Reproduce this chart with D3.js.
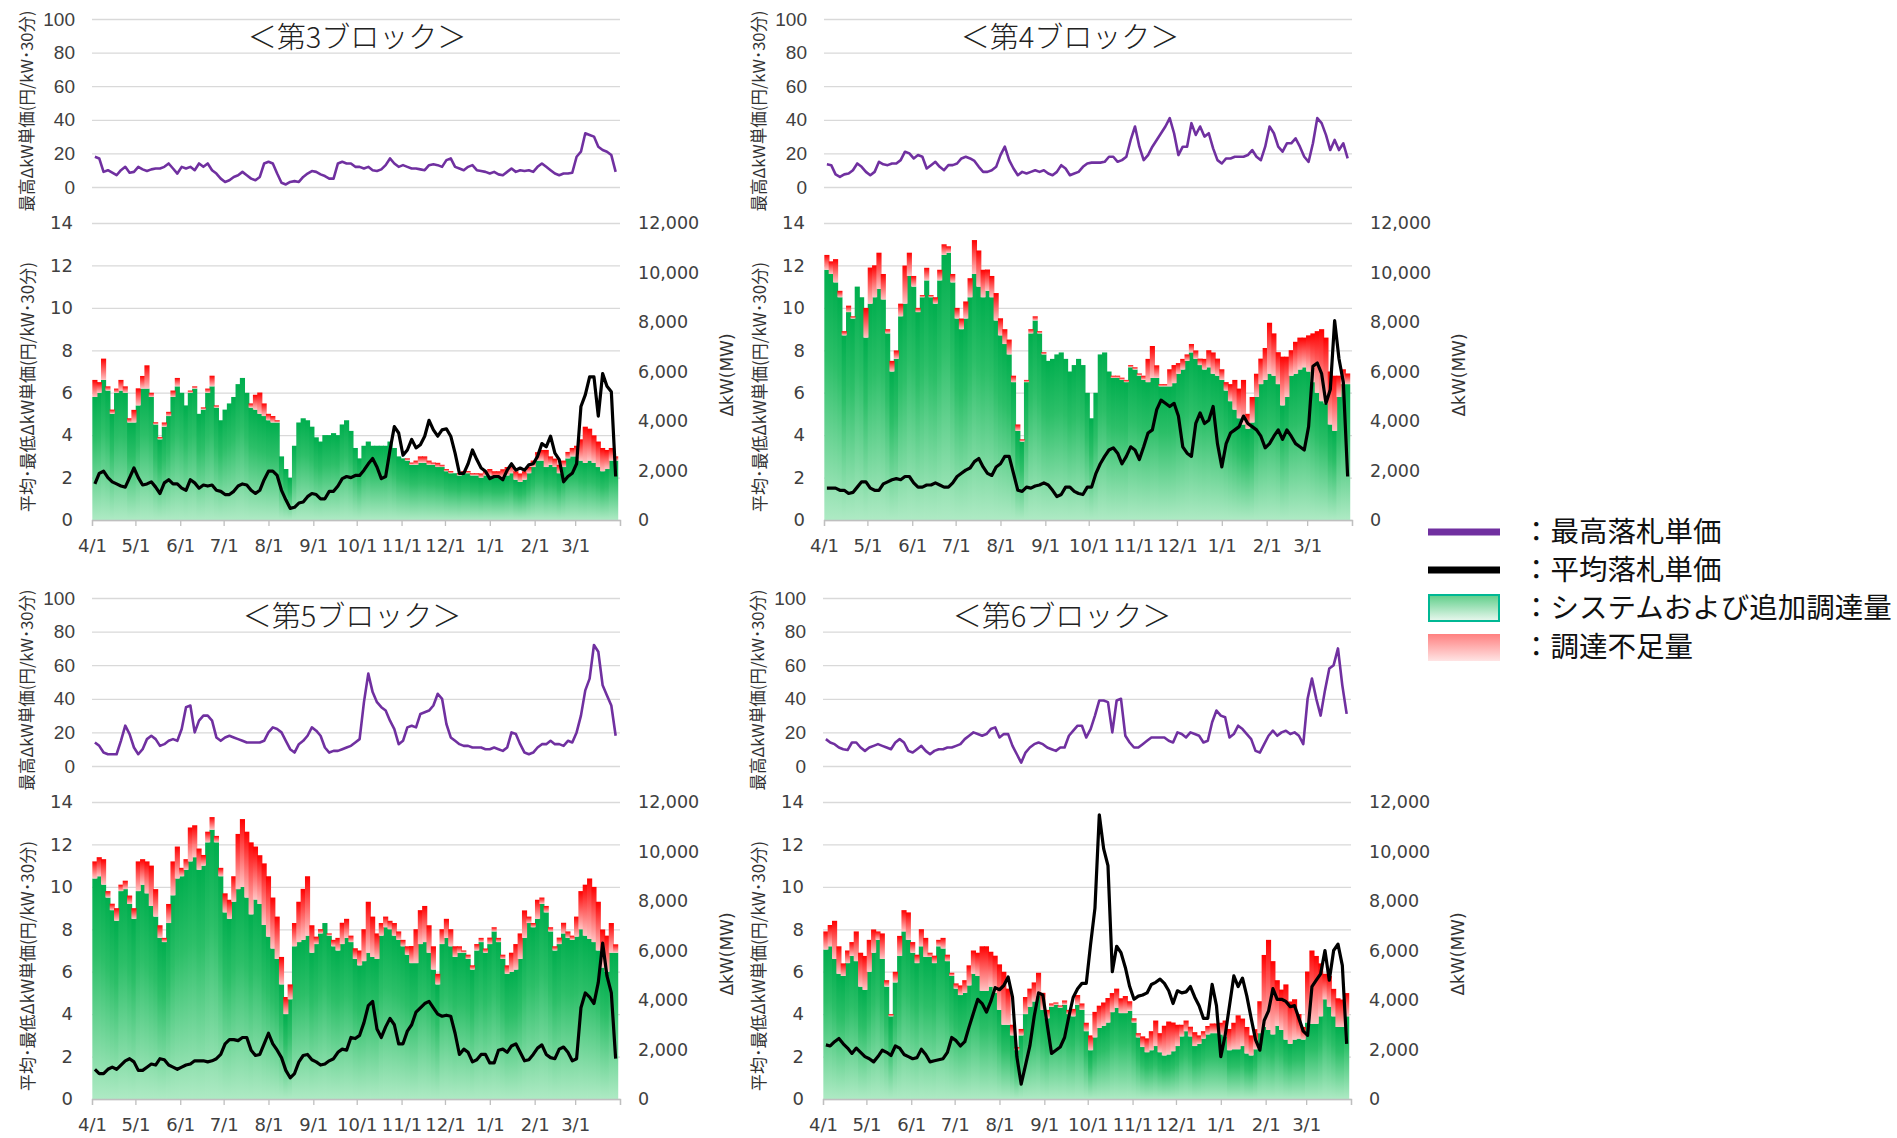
<!DOCTYPE html>
<html>
<head>
<meta charset="utf-8">
<script src="https://cdn.jsdelivr.net/npm/d3@7"></script>
<style>
body { margin: 0; background: #fff; }
</style>
</head>
<body>
<svg id="chart" width="1897" height="1138"></svg>
<script>
// ---- data: one value every 3 days, from 4/3 to 3/30 ----
var firstDay = new Date(2021, 3, 3);
var stepDays = 3;

// block 3
var block3Max = [18,17,9,10,8.5,7,10,12,8.5,9, 12,10.5,9.5,10.5,11,11,12,14,11,8, 12,11,12,10,14,12,14,10,8,5,
  3,4,6,7,9,7,5,4,6,14, 15,14,8,2.5,1.5,3,3.5,3,6,8, 9.5,9,7.5,6.5,5,5,14,15,14,14,
  12,12,11,12,10,9.5,10.5,13,17,14, 12,13,12,11,11,10.5,10,13,13.5,13, 12,16,17,12,11,10,12,13,10,9.5,
  9,8,9,7.5,7,9,11,9,10,9.5, 10,9,12,14,12,10,8,7,8,8, 8.5,18,21,32,31,30,24,22,21,19, 9];
var block3Avg = [1.7,2.2,2.3,2.0,1.8,1.7,1.6,1.55,2.0,2.45, 2.0,1.65,1.7,1.8,1.55,1.25,1.75,1.9,1.7,1.7,
  1.5,1.4,1.9,1.75,1.5,1.65,1.6,1.65,1.4,1.35, 1.2,1.2,1.35,1.6,1.7,1.65,1.4,1.25,1.4,1.9,
  2.3,2.3,2.1,1.4,0.95,0.55,0.6,0.8,0.85,1.1, 1.25,1.2,1.0,1.0,1.35,1.35,1.6,1.95,2.05,2.0,
  2.1,2.1,2.35,2.65,2.9,2.5,1.95,2.05,3.3,4.4, 4.1,3.05,3.3,3.8,3.4,3.55,3.95,4.7,4.25,3.95,
  4.25,4.3,3.95,3.15,2.2,2.2,2.65,3.3,2.85,2.45, 2.3,1.95,2.05,2.05,1.9,2.35,2.65,2.35,2.45,2.35,
  2.6,2.65,3.0,3.6,3.45,3.95,3.15,2.85,1.8,2.05, 2.2,2.65,5.35,5.9,6.75,6.75,4.9,6.9,6.3,6.05, 2.05];
var block3Procured = [4970,5140,5660,5230,4290,5140,5230,5140,3940,3940, 4630,5310,5310,4970,3860,3260,3770,4200,4970,5400,
  5140,4630,5140,5310,4290,4460,5140,5400,4540,4030, 4460,4710,4970,5490,5740,5140,4540,4460,4290,4200,
  4030,3940,3940,2570,2060,1710,3000,3940,4110,4030, 3770,3340,3170,3430,3430,3510,3430,3860,4030,3600,
  2910,2490,3000,3170,3000,3000,3000,3000,3170,2910, 2570,2490,2400,2230,2230,2310,2310,2230,2230,2140,
  2140,1970,1890,1890,1800,1890,1890,1800,1800,1710, 1800,1800,1710,1710,1710,1800,1890,1630,1540,1630,
  1890,2140,2400,2400,2140,2230,2140,1890,2140,2490, 2570,2570,2400,2310,2400,2310,2140,1970,2060,2400, 2400];
var block3Shortage = [690,430,860,170,170,170,430,260,170,510, 690,510,940,170,90,90,170,170,260,340,
  0,0,90,90,0,90,170,430,90,0, 0,0,0,0,0,0,170,600,860,510, 260,260,90,0,0,0,0,0,0,0,
  0,0,0,0,0,0,0,0,0,0, 0,0,0,0,0,0,0,0,0,0, 0,0,90,90,170,260,260,170,90,170,
  90,90,90,0,90,90,90,90,90,170, 170,260,260,260,340,340,340,340,340,340,
  260,260,340,430,690,340,340,340,260,260, 340,430,860,1460,1290,1110,1030,940,770,510, 170];

// block 4
var block4Max = [13.5,13,7.5,6,7.5,8,10,14,12,9, 7,9,15,13.5,13,14,14,16,21,20, 17,19,18,11,13,15,12,10,13,13,
  14,17,18,17,15.5,12,9,9,10,12, 19,24,16,11,7,9,8,9,10,9, 10,8,7,9,13,11,7,8,9,12,
  14,14.5,14.5,14.5,15,18,18,15,16,18, 28,36,24,16,19,24,28,32,36,41, 32,19,24,24,38,31,36,30,32,23,
  16,14,17,17,18,18,18,19,22,18, 16,24,36,32,24,21,26,26,29,24, 18,15,26,41,38,31,22,28,22,26, 17];
var block4Avg = [1.5,1.5,1.5,1.4,1.4,1.25,1.3,1.55,1.8,1.8, 1.5,1.4,1.4,1.7,1.8,1.9,1.95,1.9,2.05,2.05,
  1.75,1.55,1.55,1.65,1.65,1.75,1.65,1.55,1.55,1.75, 2.05,2.2,2.35,2.45,2.75,2.9,2.5,2.2,2.1,2.5,
  2.65,3.0,3.0,2.2,1.4,1.35,1.55,1.5,1.6,1.65, 1.75,1.65,1.4,1.1,1.2,1.55,1.55,1.35,1.25,1.2,
  1.55,1.55,2.2,2.65,3.0,3.3,3.4,3.15,2.65,3.0, 3.45,3.3,2.85,3.45,4.1,4.25,5.2,5.65,5.5,5.35,
  5.5,4.9,3.45,3.15,3.0,4.55,5.05,4.55,4.7,5.35, 3.6,2.5,3.6,4.1,4.25,4.4,4.9,4.55,4.4,4.25,
  3.95,3.4,3.6,3.95,4.25,3.8,4.25,3.95,3.6,3.45, 3.3,4.4,7.25,7.4,6.9,5.5,6.15,9.4,7.6,6.5, 2.05];
var block4Procured = [10110,9940,9600,9000,7460,8400,8140,9430,9000,7370, 8740,9000,9340,8910,7540,6000,6510,8230,8740,9860,
  9430,8400,9000,9680,9000,8740,9680,10710,10800,9600, 8140,7710,8140,9000,9940,9430,9000,9260,9000,8060,
  7460,7110,6690,5570,3600,3170,5570,7540,8060,7540, 6690,6430,6510,6690,6770,6510,6000,6260,6510,6260,
  5140,4110,5140,6690,6770,6000,5740,5740,5660,5570, 6170,6080,5830,5660,5570,5740,5740,5400,5400,5400,
  5530,5910,6080,6430,6770,6510,6260,6080,6170,5910, 5830,5660,5230,4800,4460,4110,3860,3690,3940,4970,
  5490,5660,5910,5830,5490,4630,4970,5830,5910,6080, 6170,6000,5570,5140,4800,4710,3860,3600,4970,5490, 5490];
var block4Shortage = [600,510,940,260,170,260,90,0,0,1200, 1460,1290,1460,1030,170,430,340,510,1540,940,
  430,170,90,510,90,260,430,430,260,340, 430,430,690,770,1370,1460,1110,860,860,1110,
  690,600,600,260,260,90,90,170,170,90, 90,0,0,0,0,0,0,0,0,0, 0,0,0,0,0,0,90,90,90,90,
  90,90,90,170,940,1290,510,90,90,690, 730,430,430,260,340,340,260,430,690,860,
  690,430,340,690,1200,1200,1800,600,1030,940, 1030,1290,2060,1710,1290,1970,1630,1030,1290,1290,
  1200,1460,1970,2490,2910,2660,2140,2230,860,600, 430];

// block 5
var block5Max = [14,12,8,7,7,7,15,24,19,11, 7,10,16,18,16,12,13,15,16,15, 22,35,36,20,27,30,30,27,17,15,
  17,18,17,16,15,14,14,14,14,15, 20,23,22,20,15,10,8,13,15,18, 23,21,18,11,8,9,9,10,11,12,
  14,16,38,55,44,38,35,33,27,22, 13,15,23,24,23,31,32,33,36,43, 40,25,17,15,13,12,12,11,11,11,
  10,10,11,10,9,11,20,19,13,8, 7,8,11,13,13,15,13,13,12,15, 14,20,30,45,52,72,68,48,42,36, 18];
var block5Avg = [1.4,1.2,1.2,1.4,1.5,1.4,1.6,1.8,1.9,1.75, 1.35,1.35,1.5,1.65,1.6,1.9,1.85,1.6,1.5,1.4,
  1.5,1.6,1.65,1.8,1.8,1.8,1.75,1.8,1.9,2.1, 2.6,2.8,2.8,2.75,2.9,2.9,2.3,2.05,2.1,2.6,
  3.1,2.6,2.3,1.95,1.35,1.0,1.2,1.75,2.05,2.1, 1.85,1.75,1.6,1.65,1.8,1.9,2.2,2.35,2.3,2.9,
  2.85,3.0,3.6,4.4,4.6,3.3,2.9,3.4,3.8,3.5, 2.6,2.6,3.2,3.5,4.1,4.3,4.5,4.6,4.3,4.0,
  3.9,3.95,3.9,3.1,2.1,2.35,2.2,1.75,1.85,2.1, 2.1,1.7,1.7,2.3,2.35,2.2,2.5,2.6,2.2,1.8,
  1.85,2.1,2.4,2.55,2.1,1.95,1.9,2.35,2.45,2.2, 1.8,1.9,4.3,5.0,4.8,4.5,5.5,7.35,5.8,5.0, 1.9];
var block5Procured = [8910,9000,8660,8140,7630,7200,8400,8480,7880,7280, 8400,8660,8310,7800,7370,6510,6340,7110,8230,8910,
  9000,9260,9600,9770,9260,9430,10370,10880,10370,9000, 7540,7280,7970,8480,8570,8140,7460,8060,7880,7030,
  6560,6080,5660,4630,3430,4030,6170,6340,6430,6600, 5910,6260,6690,7110,6600,6170,6000,6260,6510,6340,
  5660,5400,5570,5910,5740,5660,6600,6940,6860,6600, 6430,6170,5830,5490,5490,6260,6340,5910,5230,4630,
  6260,6510,6170,5740,5910,5910,5660,5230,6000,6340, 5910,6260,6770,6340,5660,5060,5140,5230,5660,6510,
  7110,6940,7280,7880,7540,6770,6000,6260,6690,6510, 6430,6560,6860,6600,6470,6340,6000,5310,5140,5910, 5910];
var block5Shortage = [690,770,1030,260,260,510,260,340,340,430, 1200,1030,1290,1630,1110,510,170,770,1370,1290,
  340,430,1370,1290,860,430,430,510,260,340, 770,770,1030,2230,2740,2660,2910,2140,1970,2490,
  2440,2060,1710,1110,690,600,940,1630,2060,2400, 1110,300,170,0,90,260,510,860,770,260,
  430,600,1290,2060,1630,1030,510,430,340,510, 340,260,340,690,1370,1370,1460,1110,940,430,
  600,770,690,430,260,90,170,170,260,170, 170,260,170,170,170,340,770,1030,1030,1110,
  260,170,770,260,260,170,170,260,430,260, 170,810,1540,2060,2440,2230,1970,1540,1460,1200, 340];

// block 6
var block6Max = [16,14,13,11,10,9.5,14,14,11,9, 11,12,13,12,11,10,14,16,14,9, 8,10,12,9,7,9,10,10,11,11,
  12,13,16,18,20,19,18,19,22,23, 17,19,19,12,7,2,8,11,13,14, 13,11,10,9,11,11,18,21,24,24,
  17,22,30,39,39,38,20,39,40,18, 14,11,11,13,15,17,17,17,17,15, 14,20,19,17,20,19,18,14,15,26,
  33,30,29,17,19,24,22,19,16,9, 8,13,18,21,18,20,21,19,20,18, 13,40,52,40,30,45,58,60,70,48, 31];
var block6Avg = [2.55,2.5,2.7,2.85,2.6,2.4,2.15,2.4,2.2,2.0, 1.9,1.75,2.0,2.3,2.2,2.05,2.5,2.4,2.1,2.0,
  1.9,1.95,2.35,2.1,1.75,1.8,1.85,1.9,2.2,2.9, 2.75,2.5,2.7,3.4,4.05,4.7,4.5,4.1,4.6,5.25,
  5.15,5.35,5.75,4.8,2.0,0.7,1.6,2.5,3.9,5.0, 4.9,3.5,2.15,2.3,2.45,2.9,3.9,4.8,5.2,5.45,
  5.45,7.3,9.0,13.4,11.8,11.0,6.0,7.2,6.9,6.2, 5.3,4.7,4.85,4.9,5.0,5.4,5.5,5.65,5.45,5.1,
  4.5,5.1,5.0,5.05,5.3,4.8,4.4,3.8,3.8,5.4, 4.4,2.0,3.0,4.4,5.8,5.3,5.7,4.85,3.8,2.8,
  2.3,3.7,4.15,5.2,4.7,4.7,4.6,4.35,4.4,3.8, 3.2,3.0,5.3,5.6,5.9,7.0,5.6,7.0,7.3,6.3, 2.6];
var block6Procured = [6040,6170,5660,5060,4970,5490,5780,5570,4540,4410, 5140,5910,6430,5660,4540,3340,4710,5780,6770,6430,
  5910,5490,6170,5740,5740,5490,6170,6080,5570,4970, 4460,4200,4290,4590,5060,4970,4370,4370,4540,4290,
  3600,3000,3000,2570,1970,2570,3430,3730,3940,4160, 3600,3260,3730,3810,3690,3810,3430,3340,3810,3600,
  2740,1970,2490,2870,2960,3090,3510,3690,3470,3470, 3560,3090,2490,2100,1890,1970,2140,1890,1760,1800,
  1930,2140,2530,2740,2530,2140,2230,2440,2610,2660, 2660,2610,2530,1970,2010,2010,2140,1840,1760,2010,
  2660,2910,2790,2610,2960,2790,2400,2230,2400,2440, 2400,3090,3040,3040,3340,4030,3730,3340,2910,2910, 3340];
var block6Shortage = [730,860,1540,1110,510,510,560,1200,1370,1370, 1290,940,340,1030,260,90,430,810,860,1110,
  430,340,690,770,170,300,260,430,260,130, 210,390,510,810,940,940,1800,1800,1410,1500,
  1840,2140,1460,430,130,260,690,730,770,940, 690,340,130,90,90,170,170,300,390,260,
  340,600,1030,900,940,990,770,770,600,690, 390,170,170,430,560,770,1030,770,1200,1330,
  1160,860,470,430,390,560,340,300,340,390, 390,470,640,860,1070,1370,1110,1070,810,810,
  1290,2910,3640,2960,1840,1630,2230,1710,1630,990, 510,2060,2960,2740,2140,1030,1240,1110,1160,1110, 940];

var priceTicks = [0, 20, 40, 60, 80, 100];
var avgTicks = [0, 2, 4, 6, 8, 10, 12, 14];
var mwTicks = [0, 2000, 4000, 6000, 8000, 10000, 12000];
var titles = ["＜第3ブロック＞", "＜第4ブロック＞", "＜第5ブロック＞", "＜第6ブロック＞"];
var legendLabels = ["：最高落札単価", "：平均落札単価", "：システムおよび追加調達量", "：調達不足量"];

// ---- layout ----
var axisStart = new Date(2021, 3, 1), axisEnd = new Date(2022, 3, 1);
var dates = d3.range(block3Max.length).map(function(i) { return d3.timeDay.offset(firstDay, stepDays * i); });
var monthTicks = d3.timeMonth.range(axisStart, axisEnd).concat([axisEnd]);
var numFont = "'DejaVu Sans', Verdana, sans-serif";
var jpFont = "'Noto Sans CJK JP', sans-serif";
var grid = "#d9d9d9";
var txt = "#404040";

var svg = d3.select("#chart");
var defs = svg.append("defs");

function gradient(id, stops) {
  var g = defs.append("linearGradient").attr("id", id)
    .attr("x1", 0).attr("y1", 0).attr("x2", 0).attr("y2", 1);
  stops.forEach(function(s) {
    g.append("stop").attr("offset", s[0]).attr("stop-color", s[1]);
  });
}
gradient("gGreen", [[0, "#00ae4e"], [0.35, "#2cbf68"], [1, "#aeeac4"]]);
gradient("gRed", [[0, "#ff0000"], [1, "#ffc4c4"]]);
gradient("gGreenKey", [[0, "#5fce89"], [1, "#eaf8ef"]]);
gradient("gRedKey", [[0, "#ff8080"], [1, "#ffe4e4"]]);

var panels = [
  {max: block3Max, avg: block3Avg, procured: block3Procured, shortage: block3Shortage, x0: 92, oy: 0, tx: 357},
  {max: block4Max, avg: block4Avg, procured: block4Procured, shortage: block4Shortage, x0: 824, oy: 0, tx: 1070},
  {max: block5Max, avg: block5Avg, procured: block5Procured, shortage: block5Shortage, x0: 92, oy: 579, tx: 352},
  {max: block6Max, avg: block6Avg, procured: block6Procured, shortage: block6Shortage, x0: 823, oy: 579, tx: 1062}
];
var plotW = 528;

function styleAxis(g, font, size) {
  g.attr("font-family", font).attr("font-size", size);
  g.selectAll("text").attr("fill", txt);
}

panels.forEach(function(p, k) {
  var g = svg.append("g");
  var x = d3.scaleTime().domain([axisStart, axisEnd]).range([p.x0, p.x0 + plotW]);
  var yTop = d3.scaleLinear().domain([0, 100]).range([187 + p.oy, 19 + p.oy]);
  var yL = d3.scaleLinear().domain([0, 14]).range([520 + p.oy, 223 + p.oy]);
  var yR = d3.scaleLinear().domain([0, 12000]).range([520 + p.oy, 223 + p.oy]);

  // top chart: max price
  var ga = g.append("g").attr("transform", "translate(" + p.x0 + ",0)")
    .call(d3.axisLeft(yTop).tickValues(priceTicks).tickSize(-plotW).tickPadding(17));
  ga.select(".domain").remove();
  ga.selectAll("line").attr("stroke", grid).attr("stroke-width", 1.3);
  styleAxis(ga, "'Liberation Sans Narrow', 'Liberation Sans', Arial, sans-serif", 19);

  // bottom chart grid + left axis
  var gl = g.append("g").attr("transform", "translate(" + p.x0 + ",0)")
    .call(d3.axisLeft(yL).tickValues(avgTicks).tickSize(-plotW).tickPadding(19));
  gl.select(".domain").remove();
  gl.selectAll("line").attr("stroke", grid).attr("stroke-width", 1.3);
  styleAxis(gl, numFont, 18);

  var gr = g.append("g").attr("transform", "translate(" + (p.x0 + plotW) + ",0)")
    .call(d3.axisRight(yR).tickValues(mwTicks).tickSize(0).tickPadding(18).tickFormat(d3.format(",")));
  gr.select(".domain").remove();
  styleAxis(gr, numFont, 17.5);

  // stacked bars
  var rows = dates.map(function(d, i) {
    return {date: d, procured: p.procured[i], shortage: p.shortage[i]};
  });
  var series = d3.stack().keys(["procured", "shortage"])(rows);
  var bw = x(d3.timeDay.offset(axisStart, stepDays)) - x(axisStart);
  var fills = ["url(#gGreen)", "url(#gRed)"];
  series.forEach(function(s, j) {
    g.append("g").selectAll("rect")
      .data(s.filter(function(d) { return d[1] - d[0] > 0; }))
      .enter().append("rect")
      .attr("x", function(d) { return x(d.data.date) - bw / 2 - 0.4; })
      .attr("width", bw + 0.8)
      .attr("y", function(d) { return yR(d[1]); })
      .attr("height", function(d) { return yR(d[0]) - yR(d[1]); })
      .attr("fill", fills[j]);
  });

  // x axis
  var gx = g.append("g").attr("transform", "translate(0," + (520 + p.oy) + ")")
    .call(d3.axisBottom(x).tickValues(monthTicks).tickSize(6).tickPadding(13)
      .tickFormat(function(d) { return +d === +axisEnd ? "" : d3.timeFormat("%-m/%-d")(d); }));
  gx.select(".domain").attr("stroke", "#bfbfbf").attr("stroke-width", 1.3);
  gx.selectAll("line").attr("stroke", "#bfbfbf").attr("stroke-width", 1.3);
  styleAxis(gx, numFont, 18);

  // lines
  g.append("path").datum(p.max)
    .attr("fill", "none").attr("stroke", "#7030a0").attr("stroke-width", 2.6)
    .attr("stroke-linejoin", "round")
    .attr("d", d3.line().x(function(d, i) { return x(dates[i]); }).y(function(d) { return yTop(d); }));
  g.append("path").datum(p.avg)
    .attr("fill", "none").attr("stroke", "#000").attr("stroke-width", 3.2)
    .attr("stroke-linejoin", "round")
    .attr("d", d3.line().x(function(d, i) { return x(dates[i]); }).y(function(d) { return yL(d); }));

  // titles and axis labels
  g.append("text").attr("x", p.tx).attr("y", 48 + p.oy).attr("text-anchor", "middle")
    .attr("font-family", jpFont).attr("font-weight", 300).attr("font-size", 29).attr("fill", "#222")
    .text(titles[k]);
  var lx = p.x0 - 65;
  g.append("text").attr("transform", "translate(" + lx + "," + (111 + p.oy) + ") rotate(-90)")
    .attr("text-anchor", "middle").attr("dy", "0.35em")
    .attr("font-family", jpFont).attr("font-size", 16.5).attr("fill", "#333")
    .text("最高ΔkW単価(円/kW･30分)");
  g.append("text").attr("transform", "translate(" + (lx + 1) + "," + (387 + p.oy) + ") rotate(-90)")
    .attr("text-anchor", "middle").attr("dy", "0.35em")
    .attr("font-family", jpFont).attr("font-size", 17).attr("fill", "#333")
    .text("平均･最低ΔkW単価(円/kW･30分)");
  g.append("text").attr("transform", "translate(" + (p.x0 + plotW + 107) + "," + (375 + p.oy) + ") rotate(-90)")
    .attr("text-anchor", "middle").attr("dy", "0.35em")
    .attr("font-family", numFont).attr("font-size", 17).attr("fill", "#333")
    .text("ΔkW(MW)");
});

// ---- legend ----
var lg = svg.append("g");
var keyX = 1428, keyW = 72, rowY = [532, 570, 608, 647];
lg.append("line").attr("x1", keyX).attr("x2", keyX + keyW).attr("y1", rowY[0]).attr("y2", rowY[0])
  .attr("stroke", "#7030a0").attr("stroke-width", 7);
lg.append("line").attr("x1", keyX).attr("x2", keyX + keyW).attr("y1", rowY[1]).attr("y2", rowY[1])
  .attr("stroke", "#000").attr("stroke-width", 7);
lg.append("rect").attr("x", keyX + 1).attr("y", rowY[2] - 13).attr("width", keyW - 2).attr("height", 26)
  .attr("fill", "url(#gGreenKey)").attr("stroke", "#00b894").attr("stroke-width", 2);
lg.append("rect").attr("x", keyX).attr("y", rowY[3] - 13).attr("width", keyW).attr("height", 27)
  .attr("fill", "url(#gRedKey)");
lg.selectAll("text.key").data(legendLabels).enter().append("text")
  .attr("x", 1522).attr("y", function(d, i) { return rowY[i]; }).attr("dy", "0.36em")
  .attr("font-family", jpFont).attr("font-size", 28.5).attr("fill", "#111")
  .text(function(d) { return d; });
</script>
</body>
</html>
